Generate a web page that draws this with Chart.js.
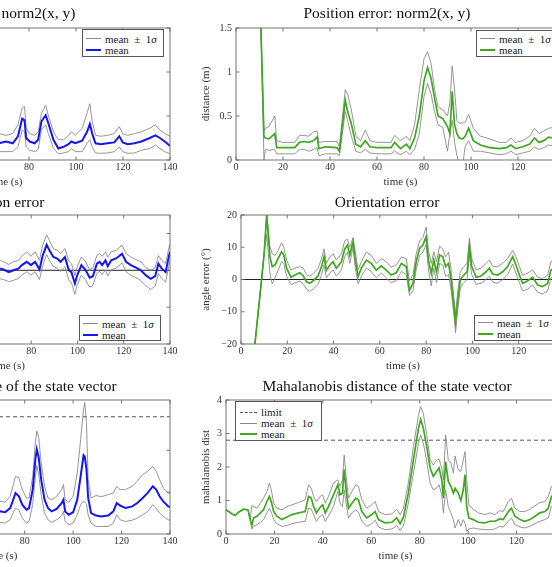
<!DOCTYPE html>
<html>
<head>
<meta charset="utf-8">
<script src="https://cdn.jsdelivr.net/npm/chart.js@4.4.1/dist/chart.umd.min.js"></script>
<style>
  html, body { margin: 0; padding: 0; background: #fff; }
  body { width: 552px; height: 567px; overflow: hidden; position: relative;
         font-family: "Liberation Serif", "DejaVu Serif", serif; }
  canvas { position: absolute; }
  .legend { position: absolute; box-sizing: border-box; border: 1px solid #555;
            background: #fff; font-size: 11px; color: #222; }
  .legend div { display: flex; align-items: center; height: 11px; white-space: pre; }
  .legend .s { display: inline-block; margin-right: 4px; }
</style>
</head>
<body>
<script>
// ===== DATA: right column (green), position error =====
const greenPosTime  = [0, 10.6, 11.9, 12.5, 14, 16.5, 17.3, 20, 25, 27, 29, 31, 33, 34.5, 35.3, 38, 43, 44, 46.5, 47.5, 49, 51, 53, 55, 57, 60, 66, 67.5, 70, 72.5, 74, 76, 78, 80, 81.5, 83, 84.5, 86, 88, 90, 91, 92, 93, 94, 95, 96.5, 97.5, 99, 101, 104, 108, 112, 115, 117, 119, 122, 125, 127, 129, 131, 133, 135, 140];
const greenPosMean  = [3, 1.5, 0.27, 0.25, 0.24, 0.3, 0.14, 0.14, 0.14, 0.2, 0.21, 0.2, 0.22, 0.26, 0.13, 0.15, 0.14, 0.1, 0.68, 0.55, 0.42, 0.18, 0.15, 0.22, 0.15, 0.14, 0.14, 0.2, 0.13, 0.18, 0.13, 0.25, 0.5, 0.9, 1.05, 0.93, 0.7, 0.5, 0.47, 0.38, 0.3, 0.78, 0.4, 0.3, 0.25, 0.24, 0.27, 0.36, 0.22, 0.17, 0.14, 0.13, 0.14, 0.17, 0.13, 0.15, 0.18, 0.25, 0.2, 0.22, 0.26, 0.25, 0.26];
const greenPosUpper = [3, 1.5, 0.33, 0.36, 0.38, 0.5, 0.22, 0.2, 0.2, 0.28, 0.28, 0.27, 0.32, 0.33, 0.2, 0.21, 0.21, 0.15, 0.8, 0.75, 0.58, 0.28, 0.22, 0.34, 0.22, 0.2, 0.2, 0.28, 0.22, 0.27, 0.22, 0.4, 0.8, 1.15, 1.23, 1.1, 0.8, 0.6, 0.57, 0.5, 0.65, 1.07, 0.8, 0.45, 0.42, 0.42, 0.43, 0.52, 0.36, 0.27, 0.24, 0.2, 0.2, 0.25, 0.2, 0.22, 0.27, 0.36, 0.3, 0.33, 0.36, 0.37, 0.37];
const greenPosLower = [3, 1.5, 0.0, 0.12, 0.11, 0.12, 0.07, 0.07, 0.07, 0.12, 0.12, 0.1, 0.12, 0.14, 0.05, 0.07, 0.07, 0.05, 0.55, 0.45, 0.28, 0.1, 0.08, 0.12, 0.08, 0.07, 0.07, 0.1, 0.06, 0.1, 0.06, 0.12, 0.3, 0.72, 0.87, 0.75, 0.55, 0.4, 0.37, 0.1, 0.3, 0.45, 0.2, 0.05, -0.05, -0.05, 0.15, 0.22, 0.1, 0.1, 0.08, 0.06, 0.07, 0.1, 0.06, 0.08, 0.1, 0.15, 0.12, 0.14, 0.17, 0.16, 0.15];

// ===== DATA: right column, orientation error =====
const greenOriTime  = [0, 6, 8.9, 10, 11.1, 12.5, 13.5, 14.7, 16.1, 17.5, 18.5, 19.7, 21.6, 23.3, 25.4, 26.9, 28.3, 29.7, 31.2, 33.3, 34.8, 35.9, 36.9, 38.4, 39.8, 41.2, 43.4, 44.8, 46, 47, 48.4, 49.4, 50.6, 52, 54.2, 56.3, 58.5, 60.6, 62.8, 64.9, 67.1, 69.3, 71.4, 72.8, 74.3, 75.7, 77.2, 78.6, 80, 81, 82.2, 83.3, 84.5, 85.8, 87.2, 88.4, 89.7, 90.8, 92, 92.7, 93.7, 94.8, 96.3, 97.7, 98.7, 99.7, 101.6, 103.7, 105.9, 107.3, 108.8, 110.9, 113.1, 115.2, 117.4, 118.8, 120.3, 121.7, 123.9, 126, 128.2, 130.3, 132.5, 133.9, 136, 140];
const greenOriMean  = [-60, -20, 0, 8.1, 20, 7, 4, 4.5, 6.6, 8.6, 7.6, 3.5, 0.7, 1.4, 2.1, 1.1, -0.7, -1.2, -0.4, 1.1, 4, 7.1, 2.9, 4.5, 5.5, 3.5, 5.5, 9.4, 10.7, 7.6, 11.7, 6, 0.9, 3.5, 6, 5, 2.9, 4.2, 2.9, 1.4, 2.1, 5, 4, -3.3, -1.2, 5.5, 9.7, 10.7, 13.3, 6, 1.9, 6, 2.4, 7.6, 7.1, 4, 5, -0.2, -8.4, -13.1, -6.4, 0, 1.4, 2.4, 10.2, 4, 0.7, 1.1, 2.4, 3.5, 1.7, 1.4, 2.4, 4, 7.1, 4.5, 1.4, -1.2, -0.4, 0.7, -1.7, -2.2, -1.2, 2.9, 4, 3];
const greenOriUpper = [-60, -20, 0, 8.1, 20, 10.2, 8, 7.5, 9, 11.4, 10, 6, 3, 3.5, 4, 3.5, 1.5, 1, 1.8, 3.5, 6.5, 9.5, 5, 7, 8, 6, 8, 12, 12.5, 10, 13, 8.5, 3, 5.5, 8.5, 7.5, 5, 6.5, 5.5, 3.8, 4.5, 7, 6.5, -0.5, 1.5, 8, 12, 13, 16.3, 9, 5, 8.5, 5.5, 10.3, 9.5, 7, 8.5, 3, -5.5, -10.5, -3.5, 2.5, 4, 5, 12.8, 6.5, 3, 3.5, 5, 6, 4, 4, 5, 6.5, 9, 7, 4, 1.3, 2, 3, 0.7, 0.3, 1.3, 5.5, 6.5, 5.5];
const greenOriLower = [-60, -20, 0, 8.1, 14, 2, -1.4, 0.5, 3, 5.5, 5, 1, -1.6, -1, -0.5, -1.5, -3, -3.7, -3, -1.5, 1.5, 4.5, 0.5, 2, 3, 1, 3, 7, 8.5, 5, 10, 3.5, -1.3, 1, 3.5, 2.5, 0.5, 2, 0.5, -1, -0.3, 2.5, 1.5, -5, -3.5, 3, 7.5, 8.5, 10.8, 3, -2, 3.5, -1, 5, 4.5, 1, 1.5, -3.5, -11, -16.5, -9, -2.5, -1, 0, 7.5, 1.5, -1.5, -1.2, 0, 1, -0.8, -1.2, 0, 1.5, 4.8, 2, -1, -3.5, -3, -1.7, -4, -4.5, -3.5, 0.5, 1.5, 0.5];

// ===== DATA: right column, Mahalanobis distance =====
const greenMahaTime  = [0, 1.1, 2.5, 3.8, 5.2, 7.3, 9.1, 10, 10.7, 11.4, 12.8, 14.2, 15.5, 16.9, 17.9, 18.7, 19.7, 21, 23.1, 25.2, 27.2, 30, 32.7, 34.1, 35.2, 36.2, 37.3, 38.9, 39.9, 41, 42.3, 44.4, 46.2, 47.1, 48.1, 48.8, 49.6, 50.6, 52, 53.6, 54.7, 56.1, 58.1, 60.2, 61.6, 63, 65.7, 68.5, 70.5, 71.9, 73.3, 75.3, 77.4, 79.5, 80.4, 81.5, 82.9, 84.3, 85.6, 87, 88, 89.1, 89.8, 90.7, 91.8, 92.9, 93.9, 94.6, 95.9, 97, 98, 98.7, 99.4, 100.3, 102.1, 104.2, 106.9, 109, 111.1, 113.1, 114.5, 116.6, 117.9, 119.3, 121.4, 123.4, 125.5, 127.6, 129.6, 131.7, 133.1, 134.4, 136, 140];
const greenMahaMean  = [0.72, 0.67, 0.6, 0.55, 0.65, 0.74, 0.72, 0.43, 0.26, 0.48, 0.53, 0.63, 0.72, 0.97, 1.12, 0.97, 0.67, 0.53, 0.43, 0.51, 0.58, 0.63, 0.67, 1.12, 1.07, 0.82, 0.63, 0.8, 0.87, 0.63, 0.82, 1.17, 1.47, 1.17, 1.22, 1.92, 1.32, 0.77, 0.92, 1.07, 1.02, 0.67, 0.48, 0.58, 0.67, 0.43, 0.33, 0.35, 0.48, 0.31, 0.51, 1.22, 2.21, 3.16, 3.42, 3.16, 2.61, 1.97, 1.72, 1.87, 1.97, 1.62, 1.07, 2.16, 1.57, 1.42, 1.22, 1.37, 1.22, 1.0, 1.32, 1.77, 0.82, 0.48, 0.43, 0.35, 0.33, 0.38, 0.38, 0.45, 0.43, 0.67, 0.77, 0.53, 0.43, 0.38, 0.43, 0.53, 0.63, 0.67, 0.77, 1.12, 1.2, 1.1];
const greenMahaUpper = [0.72, 0.67, 0.6, 0.55, 0.65, 0.74, 0.72, 0.43, 0.85, 0.82, 0.77, 0.92, 1.07, 1.27, 1.52, 1.32, 0.92, 0.77, 0.72, 0.82, 0.87, 0.94, 1.02, 1.47, 1.37, 1.12, 0.97, 1.12, 1.17, 0.92, 1.12, 1.52, 1.62, 1.42, 1.62, 2.36, 1.72, 1.07, 1.27, 1.47, 1.42, 1.02, 0.77, 0.87, 0.97, 0.67, 0.58, 0.6, 0.74, 0.58, 0.77, 1.52, 2.61, 3.55, 3.8, 3.6, 2.96, 2.21, 2.06, 2.21, 2.23, 1.97, 1.62, 2.96, 2.21, 2.11, 1.82, 2.33, 1.92, 1.87, 2.21, 2.46, 1.62, 0.87, 0.74, 0.63, 0.58, 0.63, 0.58, 0.7, 0.67, 0.97, 1.07, 0.77, 0.67, 0.67, 0.74, 0.84, 0.94, 0.97, 1.12, 1.42, 1.5, 1.4];
const greenMahaLower = [0.72, 0.67, 0.6, 0.55, 0.65, 0.74, 0.72, 0.43, 0.15, 0.23, 0.28, 0.35, 0.43, 0.63, 0.77, 0.65, 0.43, 0.31, 0.23, 0.25, 0.31, 0.35, 0.38, 0.77, 0.74, 0.58, 0.38, 0.53, 0.58, 0.38, 0.53, 0.82, 1.27, 0.92, 0.82, 1.32, 0.92, 0.48, 0.63, 0.72, 0.65, 0.38, 0.23, 0.31, 0.41, 0.21, 0.13, 0.15, 0.25, 0.11, 0.25, 0.92, 1.82, 2.71, 2.96, 2.71, 2.16, 1.52, 1.32, 1.37, 1.47, 1.17, 0.63, 1.32, 0.82, 0.63, 0.43, 0.18, 0.43, 0.23, 0.43, 0.33, 0.08, 0.15, 0.18, 0.15, 0.13, 0.13, 0.15, 0.23, 0.21, 0.38, 0.48, 0.28, 0.21, 0.18, 0.23, 0.31, 0.38, 0.43, 0.48, 0.82, 0.9, 0.8];

// ===== DATA: left column (blue), only the visible part from 66 s =====
const bluePosTime  = [66, 67.3, 70.2, 73.1, 75.3, 77.1, 78.1, 78.8, 80.3, 82.4, 83.9, 85.3, 87.1, 88.2, 90.4, 92.5, 94.7, 96.8, 98, 99.7, 102.6, 104.7, 105.9, 106.9, 108.3, 110.5, 113.4, 116.3, 118.4, 119.9, 122, 124.9, 127.8, 131.4, 133.8, 135.7, 137.8, 140];
const bluePosMean  = [0.2, 0.19, 0.21, 0.19, 0.27, 0.47, 0.45, 0.25, 0.21, 0.19, 0.23, 0.44, 0.51, 0.42, 0.23, 0.13, 0.15, 0.18, 0.21, 0.19, 0.22, 0.32, 0.41, 0.3, 0.19, 0.18, 0.19, 0.2, 0.27, 0.2, 0.18, 0.19, 0.21, 0.25, 0.28, 0.25, 0.21, 0.16];
const bluePosUpper = [0.3, 0.3, 0.28, 0.3, 0.4, 0.59, 0.61, 0.36, 0.3, 0.28, 0.32, 0.53, 0.62, 0.51, 0.32, 0.23, 0.23, 0.28, 0.32, 0.28, 0.36, 0.53, 0.64, 0.44, 0.28, 0.27, 0.28, 0.3, 0.38, 0.3, 0.28, 0.3, 0.32, 0.36, 0.4, 0.34, 0.3, 0.27];
const bluePosLower = [0.1, 0.095, 0.095, 0.095, 0.15, 0.34, 0.32, 0.15, 0.11, 0.095, 0.12, 0.34, 0.4, 0.3, 0.13, 0.07, 0.08, 0.095, 0.13, 0.095, 0.095, 0.19, 0.23, 0.15, 0.08, 0.076, 0.08, 0.095, 0.15, 0.095, 0.076, 0.08, 0.11, 0.13, 0.17, 0.13, 0.095, 0.07];

const blueOriTime  = [66, 66.7, 68.1, 70.3, 72.4, 74.6, 76, 78.1, 79.9, 81.7, 83.6, 85, 86.7, 87.9, 89.6, 91.3, 92.7, 94.6, 96.3, 97.4, 98.9, 99.9, 101.7, 103.6, 105.3, 106.7, 108.4, 109.6, 110.7, 112.1, 113.1, 114.6, 116.7, 119.3, 121, 123.1, 125.3, 127.4, 129.6, 131.7, 133.6, 135, 136.4, 138.1, 139.6, 140];
const blueOriMean  = [0.5, 0.45, 0.2, -0.5, 0, 0.5, 1.4, 2.3, 1.4, 2.3, 0.2, 4, 6.9, 5.4, 3.6, 3.2, 2.3, 3.6, 0, -0.5, -3.6, -1.4, 1.4, 0, -2, -1.6, 1.8, 2.3, 1.4, 2.7, 1.1, 2.7, 3.2, 4.5, 2.3, 1.4, 0.7, 0, -1.4, -2.3, -1.6, 1.8, 0.5, -0.5, 4, 5];
const blueOriUpper = [2.8, 2.7, 2.3, 1.6, 2.3, 2.7, 3.8, 5, 3.8, 5, 2.7, 6.8, 9.6, 8.1, 5.9, 5.4, 4.5, 5.9, 2.5, 1.8, -1.4, 0.9, 3.6, 2.3, 0, 0.7, 4, 4.5, 3.8, 5, 3.6, 5, 5.4, 6.8, 4.5, 3.6, 2.9, 2.3, 0.7, 0, 0.7, 4, 2.7, 1.8, 6.3, 7];
const blueOriLower = [-2, -2.3, -2.5, -3.1, -2.7, -2.2, -1.3, -0.4, -1.3, -0.4, -2.5, 1.3, 4.3, 2.7, 1, 0.6, -0.3, 1, -2.7, -3.3, -6.5, -4, -1.3, -2.7, -4.6, -4.1, -0.8, -0.3, -1.2, 0.1, -1.5, 0.1, 0.6, 2, -0.4, -1.4, -2, -2.8, -4.2, -5.2, -4.3, -0.9, -2.2, -3.2, 1.5, 2.5];

const blueMahaTime  = [66, 67.7, 69.8, 71.9, 74, 75.5, 76.2, 77.6, 79, 80.7, 81.8, 83.3, 84.4, 85, 85.8, 86.8, 88.2, 89.6, 91.1, 93.2, 95.3, 96, 96.7, 98.2, 100, 101.7, 103.1, 104.3, 104.8, 105.5, 106.2, 107.4, 109.5, 111.6, 114.5, 116.6, 118, 119.4, 121.6, 124.4, 126.5, 128.7, 130.8, 132.9, 134.3, 135.7, 137.2, 139.3, 140];
const blueMahaMean  = [0.48, 0.5, 0.54, 0.52, 0.62, 0.86, 0.98, 0.9, 0.7, 0.58, 0.62, 1.06, 1.78, 2.02, 1.82, 1.3, 0.82, 0.62, 0.54, 0.6, 0.74, 0.82, 0.54, 0.46, 0.52, 0.82, 1.38, 1.88, 1.85, 1.55, 0.86, 0.5, 0.44, 0.42, 0.44, 0.54, 0.74, 0.68, 0.62, 0.66, 0.74, 0.86, 0.98, 1.14, 1.06, 0.9, 0.78, 0.66, 0.64];
const blueMahaUpper = [0.72, 0.74, 0.78, 0.76, 0.9, 1.22, 1.38, 1.34, 1.06, 0.86, 0.86, 1.38, 2.18, 2.46, 2.3, 1.7, 1.14, 0.86, 0.82, 0.9, 1.06, 1.18, 0.82, 0.76, 0.9, 1.46, 2.26, 2.98, 3.14, 2.66, 1.3, 0.86, 0.92, 0.89, 0.94, 0.98, 1.14, 1.06, 1.06, 1.14, 1.26, 1.42, 1.5, 1.61, 1.5, 1.3, 1.1, 0.98, 0.96];
const blueMahaLower = [0.26, 0.26, 0.28, 0.26, 0.34, 0.54, 0.62, 0.57, 0.38, 0.26, 0.3, 0.7, 1.38, 1.64, 1.42, 0.94, 0.5, 0.34, 0.28, 0.34, 0.44, 0.54, 0.3, 0.22, 0.26, 0.46, 0.7, 0.78, 0.76, 0.72, 0.46, 0.26, 0.18, 0.18, 0.18, 0.26, 0.46, 0.34, 0.3, 0.33, 0.38, 0.46, 0.54, 0.7, 0.62, 0.5, 0.42, 0.34, 0.33];

// reference lines
const refLineTime = [0, 140];
const zeroValue   = [0, 0];
const limitValue  = [2.8, 2.8];

const xTicks = [0, 20, 40, 60, 80, 100, 120, 140];

// ===== STYLE =====
const SERIF = '"Liberation Serif", "DejaVu Serif", serif';
const GRAY = "#8a8a8a";
const GREEN = "#3fa81e";
const BLUE = "#1616f0";
const FRAME = "#666";

/* =========================
   HELPERS
========================= */
function checkLen(name, t, ...arrs) {
  arrs.forEach(a => {
    if (a.length !== t.length) throw new Error(name + ": " + a.length + " values for " + t.length + " times");
  });
}

function pts(t, v) {
  return t.map((x, i) => ({ x: x, y: v[i] }));
}

function onStep(v, step) {
  const q = v / step;
  return Math.abs(q - Math.round(q)) < 1e-6;
}

// box around the plot + little inward tick marks (pgfplots look)
const framePlugin = {
  id: "frame",
  afterDatasetsDraw(chart, args, opts) {
    const { ctx, chartArea: a, scales } = chart;
    const x = scales.x, y = scales.y;
    const len = 3.5;
    ctx.save();
    ctx.strokeStyle = FRAME;
    ctx.lineWidth = 0.9;
    ctx.beginPath();
    x.ticks.forEach(t => {
      if (!onStep(t.value, opts.xStep)) return;
      const px = x.getPixelForValue(t.value);
      ctx.moveTo(px, a.bottom); ctx.lineTo(px, a.bottom - len);
      ctx.moveTo(px, a.top); ctx.lineTo(px, a.top + len);
    });
    y.ticks.forEach(t => {
      if (!onStep(t.value, opts.yStep)) return;
      const py = y.getPixelForValue(t.value);
      ctx.moveTo(a.left, py); ctx.lineTo(a.left + len, py);
      ctx.moveTo(a.right, py); ctx.lineTo(a.right - len, py);
    });
    ctx.stroke();
    ctx.strokeRect(a.left, a.top, a.right - a.left, a.bottom - a.top);
    ctx.restore();
  }
};

function lineSet(t, v, color, width, dash) {
  return {
    data: pts(t, v),
    borderColor: color,
    borderWidth: width,
    borderDash: dash || [],
    pointRadius: 0,
    tension: 0,
    fill: false
  };
}

function minusFmt(v) {
  return v < 0 ? "\u2212" + Math.abs(v) : String(v);
}

/* =========================
   ONE PANEL
========================= */
function panel(p) {
  const c = document.createElement("canvas");
  c.width = 374;
  c.height = p.h;
  c.style.left = p.left + "px";
  c.style.top = p.top + "px";
  c.style.width = "374px";
  c.style.height = p.h + "px";
  document.body.appendChild(c);

  new Chart(c, {
    type: "line",
    data: { datasets: p.datasets },
    options: {
      responsive: false,
      animation: false,
      devicePixelRatio: 1,
      // equal side padding so the title is centred on the whole panel
      layout: { padding: { left: 9, right: 9, top: 0, bottom: 0 } },
      plugins: {
        legend: { display: false },
        tooltip: { enabled: false },
        title: {
          display: true,
          text: p.title,
          color: "#111",
          font: { family: SERIF, size: 15.5, weight: "normal" },
          padding: { top: 4, bottom: p.titleGap }
        },
        frame: { xStep: 20, yStep: p.yStep }
      },
      scales: {
        x: {
          type: "linear",
          min: 0,
          max: 140,
          afterBuildTicks: s => { s.ticks = xTicks.map(v => ({ value: v })); },
          ticks: { autoSkip: false, maxRotation: 0, padding: 1.5, color: "#333",
                   font: { family: SERIF, size: 10 } },
          grid: { display: false, drawTicks: false },
          border: { display: false },
          title: { display: true, text: "time (s)", color: "#333",
                   font: { family: SERIF, size: 11 }, padding: { top: 0, bottom: 1.4 } },
          afterFit: s => { s.height = 30; }
        },
        y: {
          type: "linear",
          min: p.yMin,
          max: p.yMax,
          ticks: { stepSize: p.yStep, padding: 4, color: "#333",
                   font: { family: SERIF, size: 10 },
                   callback: v => onStep(v, p.yStep) ? minusFmt(v) : "" },
          grid: { display: false, drawTicks: false },
          border: { display: false },
          title: { display: true, text: p.yTitle, color: "#333",
                   font: { family: SERIF, size: 11 }, padding: { top: -9.6, bottom: 0 } },
          afterFit: s => { s.width = p.yw; }
        }
      }
    },
    plugins: [framePlugin]
  });
}

/* =========================
   HTML LEGENDS
========================= */
function legend(box, rows) {
  const d = document.createElement("div");
  d.className = "legend";
  d.style.left = box.x + "px";
  d.style.top = box.y + "px";
  d.style.width = box.w + "px";
  d.style.height = box.h + "px";
  d.style.padding = box.padTop + "px 0 0 " + box.padLeft + "px";
  d.innerHTML = rows.map(r =>
    `<div><span class="s" style="width:${box.sample}px;border-top:${r.w}px ${r.dash ? "dashed" : "solid"} ${r.c}"></span>${r.label}</div>`
  ).join("");
  document.body.appendChild(d);
}

const SIGMA_LABEL = "mean  \u00b1  1<i>\u03c3</i>";

/* =========================
   BUILD
========================= */
checkLen("greenPos", greenPosTime, greenPosMean, greenPosUpper, greenPosLower);
checkLen("greenOri", greenOriTime, greenOriMean, greenOriUpper, greenOriLower);
checkLen("greenMaha", greenMahaTime, greenMahaMean, greenMahaUpper, greenMahaLower);
checkLen("bluePos", bluePosTime, bluePosMean, bluePosUpper, bluePosLower);
checkLen("blueOri", blueOriTime, blueOriMean, blueOriUpper, blueOriLower);
checkLen("blueMaha", blueMahaTime, blueMahaMean, blueMahaUpper, blueMahaLower);

// yw = y-axis box width (plot left = canvas left + 9 + yw)
const rows = [
  { top: 1, h: 189, titleGap: 4.4, yw: 27 },
  { top: 190, h: 184, titleGap: 2.4, yw: 32 },
  { top: 374, h: 190, titleGap: 3.4, yw: 17 }
];
const COL_LEFT = [-195, 200];

// row 1 : position error
panel({ ...rows[0], left: COL_LEFT[0], title: "Position error: norm2(x, y)", yTitle: "distance (m)",
  yMin: 0, yMax: 1.5, yStep: 0.5,
  datasets: [
    lineSet(bluePosTime, bluePosMean, BLUE, 2),
    lineSet(bluePosTime, bluePosUpper, GRAY, 0.9),
    lineSet(bluePosTime, bluePosLower, GRAY, 0.9)
  ] });
panel({ ...rows[0], left: COL_LEFT[1], title: "Position error: norm2(x, y)", yTitle: "distance (m)",
  yMin: 0, yMax: 1.5, yStep: 0.5,
  datasets: [
    lineSet(greenPosTime, greenPosMean, GREEN, 1.7),
    lineSet(greenPosTime, greenPosUpper, GRAY, 0.9),
    lineSet(greenPosTime, greenPosLower, GRAY, 0.9)
  ] });

// row 2 : orientation error
panel({ ...rows[1], left: COL_LEFT[0], title: "Orientation error", yTitle: "angle error (\u00b0)",
  yMin: -20, yMax: 15, yStep: 10,
  datasets: [
    lineSet(blueOriTime, blueOriMean, BLUE, 2),
    lineSet(blueOriTime, blueOriUpper, GRAY, 0.9),
    lineSet(blueOriTime, blueOriLower, GRAY, 0.9),
    lineSet(refLineTime, zeroValue, "#222", 1)
  ] });
panel({ ...rows[1], left: COL_LEFT[1], title: "Orientation error", yTitle: "angle error (\u00b0)",
  yMin: -20, yMax: 20, yStep: 10,
  datasets: [
    lineSet(greenOriTime, greenOriMean, GREEN, 1.7),
    lineSet(greenOriTime, greenOriUpper, GRAY, 0.9),
    lineSet(greenOriTime, greenOriLower, GRAY, 0.9),
    lineSet(refLineTime, zeroValue, "#222", 1)
  ] });

// row 3 : mahalanobis distance
panel({ ...rows[2], left: COL_LEFT[0], title: "Mahalanobis distance of the state vector", yTitle: "mahalanobis dist",
  yMin: 0, yMax: 3.2, yStep: 1,
  datasets: [
    lineSet(blueMahaTime, blueMahaMean, BLUE, 2),
    lineSet(blueMahaTime, blueMahaUpper, GRAY, 0.9),
    lineSet(blueMahaTime, blueMahaLower, GRAY, 0.9),
    lineSet(refLineTime, limitValue, "#555", 1, [4, 3])
  ] });
panel({ ...rows[2], left: COL_LEFT[1], title: "Mahalanobis distance of the state vector", yTitle: "mahalanobis dist",
  yMin: 0, yMax: 4, yStep: 1,
  datasets: [
    lineSet(greenMahaTime, greenMahaMean, GREEN, 1.7),
    lineSet(greenMahaTime, greenMahaUpper, GRAY, 0.9),
    lineSet(greenMahaTime, greenMahaLower, GRAY, 0.9),
    lineSet(refLineTime, limitValue, "#555", 1, [4, 3])
  ] });

// legends
legend({ x: 82, y: 29, w: 82, h: 28, padTop: 3, padLeft: 3, sample: 15 }, [
  { label: SIGMA_LABEL, c: GRAY, w: 1 },
  { label: "mean", c: BLUE, w: 2 }
]);
legend({ x: 476, y: 30, w: 82, h: 27, padTop: 2, padLeft: 3, sample: 15 }, [
  { label: SIGMA_LABEL, c: GRAY, w: 1 },
  { label: "mean", c: GREEN, w: 2 }
]);
legend({ x: 79, y: 315, w: 82, h: 26, padTop: 2, padLeft: 3, sample: 15 }, [
  { label: SIGMA_LABEL, c: GRAY, w: 1 },
  { label: "mean", c: BLUE, w: 2 }
]);
legend({ x: 474, y: 315, w: 82, h: 26, padTop: 1, padLeft: 3, sample: 15 }, [
  { label: SIGMA_LABEL, c: GRAY, w: 1 },
  { label: "mean", c: GREEN, w: 2 }
]);
legend({ x: 235, y: 401, w: 87, h: 40, padTop: 4.5, padLeft: 4, sample: 17 }, [
  { label: "limit", c: "#555", w: 1, dash: true },
  { label: SIGMA_LABEL, c: GRAY, w: 1 },
  { label: "mean", c: GREEN, w: 2 }
]);
</script>
</body>
</html>
